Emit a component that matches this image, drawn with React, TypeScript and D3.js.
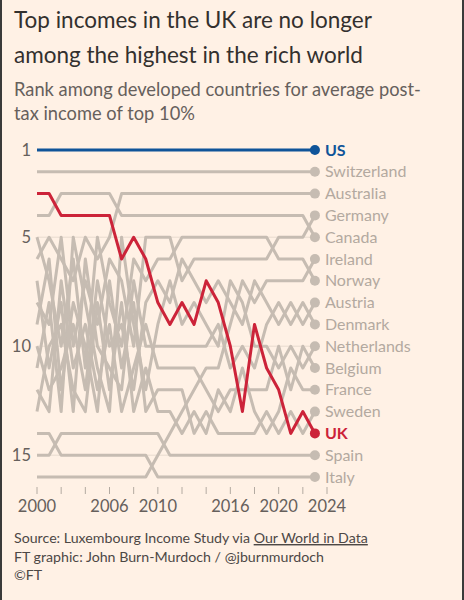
import React from "react";
import * as d3 from "d3";

const years = [
  2000, 2001, 2002, 2003, 2004, 2005, 2006, 2007, 2008, 2009, 2010, 2011,
  2012, 2013, 2014, 2015, 2016, 2017, 2018, 2019, 2020, 2021, 2022, 2023,
];

// rank per year, 2000 → 2023
const usRanks = [1, 1, 1, 1, 1, 1, 1, 1, 1, 1, 1, 1, 1, 1, 1, 1, 1, 1, 1, 1, 1, 1, 1, 1];
const switzerlandRanks = [2, 2, 2, 2, 2, 2, 2, 2, 2, 2, 2, 2, 2, 2, 2, 2, 2, 2, 2, 2, 2, 2, 2, 2];
const australiaRanks = [6, 5, 6, 7, 5, 6, 5, 3, 3, 3, 3, 3, 3, 3, 3, 3, 3, 3, 3, 3, 3, 3, 3, 3];
const germanyRanks = [8, 9, 5, 10, 7, 9, 6, 7, 10, 5, 5, 5, 7, 6, 6, 6, 6, 6, 6, 6, 5, 5, 5, 4];
const canadaRanks = [4, 4, 3, 3, 3, 3, 3, 4, 4, 4, 4, 4, 4, 4, 4, 4, 4, 4, 4, 4, 4, 4, 4, 5];
const irelandRanks = [16, 16, 16, 16, 16, 16, 16, 16, 16, 16, 15, 14, 13, 12, 11, 11, 9, 7, 8, 7, 7, 7, 7, 6];
const norwayRanks = [5, 7, 10, 6, 11, 5, 8, 10, 6, 7, 6, 6, 5, 5, 5, 5, 5, 5, 5, 5, 6, 6, 6, 7];
const austriaRanks = [10, 12, 11, 9, 12, 7, 10, 9, 12, 8, 7, 8, 6, 7, 8, 7, 8, 9, 7, 8, 9, 8, 9, 8];
const denmarkRanks = [7, 11, 8, 13, 6, 10, 11, 12, 7, 10, 10, 10, 10, 10, 10, 9, 11, 10, 11, 9, 8, 9, 8, 9];
const netherlandsRanks = [11, 8, 13, 5, 8, 11, 13, 5, 9, 12, 9, 7, 9, 8, 9, 10, 7, 8, 10, 10, 11, 10, 11, 10];
const belgiumRanks = [12, 13, 7, 11, 9, 12, 9, 13, 11, 9, 11, 11, 11, 11, 12, 13, 12, 12, 12, 12, 10, 12, 10, 11];
const franceRanks = [13, 10, 9, 12, 13, 8, 12, 8, 13, 11, 13, 13, 14, 13, 14, 12, 13, 11, 13, 14, 13, 11, 12, 12];
const swedenRanks = [9, 6, 12, 8, 10, 13, 7, 11, 8, 13, 12, 12, 12, 14, 13, 14, 14, 14, 14, 13, 14, 13, 14, 13];
const ukRanks = [3, 3, 4, 4, 4, 4, 4, 6, 5, 6, 8, 9, 8, 9, 7, 8, 10, 13, 9, 11, 12, 14, 13, 14];
const spainRanks = [15, 15, 14, 14, 14, 14, 14, 14, 14, 14, 14, 15, 15, 15, 15, 15, 15, 15, 15, 15, 15, 15, 15, 15];
const italyRanks = [14, 14, 15, 15, 15, 15, 15, 15, 15, 15, 16, 16, 16, 16, 16, 16, 16, 16, 16, 16, 16, 16, 16, 16];

const countries = [
  { name: "US", ranks: usRanks },
  { name: "Switzerland", ranks: switzerlandRanks },
  { name: "Australia", ranks: australiaRanks },
  { name: "Germany", ranks: germanyRanks },
  { name: "Canada", ranks: canadaRanks },
  { name: "Ireland", ranks: irelandRanks },
  { name: "Norway", ranks: norwayRanks },
  { name: "Austria", ranks: austriaRanks },
  { name: "Denmark", ranks: denmarkRanks },
  { name: "Netherlands", ranks: netherlandsRanks },
  { name: "Belgium", ranks: belgiumRanks },
  { name: "France", ranks: franceRanks },
  { name: "Sweden", ranks: swedenRanks },
  { name: "UK", ranks: ukRanks },
  { name: "Spain", ranks: spainRanks },
  { name: "Italy", ranks: italyRanks },
];

const yTicks = [1, 5, 10, 15];
const xTicks = [2000, 2002, 2004, 2006, 2008, 2010, 2012, 2014, 2016, 2018, 2020, 2022, 2024];
const xLabels = [2000, 2006, 2010, 2016, 2020, 2024];

const BG = "#fff1e5";
const GREY = "#c6bcb2";
const LABEL_GREY = "#b3a9a0";
const BLUE = "#0f5499";
const RED = "#cc2339";
const TEXT = "#33302e";
const MUTED = "#66605c";
const FONT = "Lato, 'Open Sans', sans-serif";

const App: React.FC = () => {
  const width = 464;
  const height = 600;

  const x = d3.scaleLinear().domain([2000, 2024]).range([37, 327]);
  const y = d3.scaleLinear().domain([1, 16]).range([150, 477]);

  const line = d3
    .line<number>()
    .x((_, i) => x(years[i]))
    .y((d) => y(d));

  const colorOf = (name: string) =>
    name === "US" ? BLUE : name === "UK" ? RED : GREY;

  // grey first, highlighted lines on top
  const drawOrder = [
    ...countries.filter((c) => c.name !== "US" && c.name !== "UK"),
    ...countries.filter((c) => c.name === "US" || c.name === "UK"),
  ];
  const lastYear = years[years.length - 1];
  const last = years.length - 1;

  return (
    <svg
      width={width}
      height={height}
      style={{ position: "absolute", left: 0, top: 0, fontFamily: FONT }}
    >
      <rect width={width} height={height} fill={BG} />
      <rect x={0} y={0} width={2} height={height} fill="#3a3a3a" />
      <rect x={width - 2} y={0} width={2} height={height} fill="#3a3a3a" />

      {/* Title */}
      <text x={14} y={28} fontSize={22.5} fill={TEXT}>
        Top incomes in the UK are no longer
      </text>
      <text x={14} y={63} fontSize={22.5} fill={TEXT}>
        among the highest in the rich world
      </text>
      <text x={14} y={96} fontSize={18.3} fill={MUTED}>
        Rank among developed countries for average post-
      </text>
      <text x={14} y={120} fontSize={18.3} fill={MUTED}>
        tax income of top 10%
      </text>

      {/* Grid */}
      {yTicks.slice(1).map((t) => (
        <line
          key={t}
          x1={x(2000)}
          x2={x(lastYear)}
          y1={y(t)}
          y2={y(t)}
          stroke="#e8dbcf"
          strokeWidth={1}
        />
      ))}
      {yTicks.map((t) => (
        <text
          key={t}
          x={31}
          y={y(t)}
          dy="0.35em"
          textAnchor="end"
          fontSize={16.5}
          fill={MUTED}
        >
          {t}
        </text>
      ))}

      {/* X axis */}
      {xTicks.map((t) => (
        <line
          key={t}
          x1={x(t)}
          x2={x(t)}
          y1={487}
          y2={494}
          stroke="#b3aaa1"
          strokeWidth={1}
        />
      ))}
      {xLabels.map((t) => (
        <text
          key={t}
          x={x(t)}
          y={512}
          textAnchor="middle"
          fontSize={16.5}
          fill={MUTED}
        >
          {t}
        </text>
      ))}

      {/* Lines */}
      {drawOrder.map((c) => (
        <path
          key={c.name}
          d={line(c.ranks) || ""}
          fill="none"
          stroke={colorOf(c.name)}
          strokeWidth={3}
          strokeLinejoin="round"
        />
      ))}
      {drawOrder.map((c) => (
        <circle
          key={c.name}
          cx={x(lastYear)}
          cy={y(c.ranks[last])}
          r={5}
          fill={colorOf(c.name)}
        />
      ))}
      {countries.map((c) => (
        <text
          key={c.name}
          x={x(lastYear) + 10}
          y={y(c.ranks[last])}
          dy="0.35em"
          fontSize={16}
          fontWeight={c.name === "US" || c.name === "UK" ? 700 : 400}
          fill={c.name === "US" ? BLUE : c.name === "UK" ? RED : LABEL_GREY}
        >
          {c.name}
        </text>
      ))}

      {/* Footer */}
      <text x={14} y={543} fontSize={14.2} fill="#4d4845">
        Source: Luxembourg Income Study via{" "}
        <tspan textDecoration="underline">Our World in Data</tspan>
      </text>
      <text x={14} y={562} fontSize={14.2} fill="#4d4845">
        FT graphic: John Burn-Murdoch / @jburnmurdoch
      </text>
      <text x={14} y={580} fontSize={14.2} fill="#4d4845">
        ©FT
      </text>
    </svg>
  );
};

export default App;
